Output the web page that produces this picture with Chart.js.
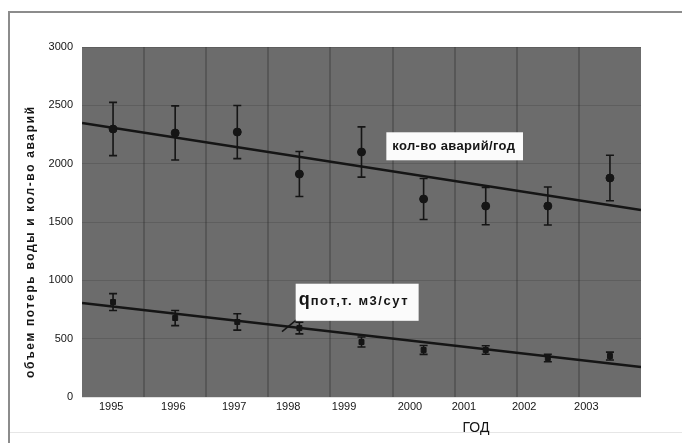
<!DOCTYPE html>
<html>
<head>
<meta charset="utf-8">
<script src="https://cdn.jsdelivr.net/npm/chart.js@4.4.1/dist/chart.umd.min.js"></script>
<style>
  html, body { margin: 0; padding: 0; background: #fff; }
  #wrap { width: 682px; height: 443px; position: relative; }
</style>
</head>
<body>
<div id="wrap"><canvas id="lossChart"></canvas></div>
<script>
// x is the year index: 0 = 1995 ... 8 = 2003
const years = ['1995', '1996', '1997', '1998', '1999', '2000', '2001', '2002', '2003'];
// the scanned tick labels drift left of the points, so they get their own positions
const yearTickPos = [-0.03, 0.97, 1.95, 2.82, 3.72, 4.78, 5.65, 6.62, 7.62];

const accidents    = [2297, 2263, 2271, 1911, 2100, 1697, 1637, 1637, 1877];
const accidentsErr = [228, 232, 228, 193, 215, 176, 160, 163, 195];
const waterLoss    = [814, 677, 643, 591, 471, 403, 403, 334, 351];
const waterLossErr = [72, 65, 70, 50, 43, 38, 36, 32, 34];

// trend lines, values at the left and right edge of the plot
const trendX         = [-0.5, 8.5];
const accidentsTrend = [2349, 1603];
const waterLossTrend = [806, 257];

const yTicks = [0, 500, 1000, 1500, 2000, 2500, 3000];

const FONT = 'Liberation Sans, Arial, sans-serif';
const INK = '#151515';

function toPoints(vals) {
  return vals.map((v, i) => ({ x: i, y: v }));
}

// draws text stretched to a given width with letter spacing
function fitText(ctx, text, x, y, width) {
  ctx.letterSpacing = '0px';
  const w = ctx.measureText(text).width;
  const sp = (width - w) / Math.max(text.length - 1, 1);
  ctx.letterSpacing = sp.toFixed(2) + 'px';
  ctx.fillText(text, x, y);
  ctx.letterSpacing = '0px';
}

const scanPlugin = {
  id: 'scan',
  beforeDraw(chart) {
    const { ctx, chartArea: a } = chart;
    ctx.save();
    // page frame
    ctx.strokeStyle = '#8c8c8c';
    ctx.lineWidth = 2;
    ctx.beginPath();
    ctx.moveTo(9, 443);
    ctx.lineTo(9, 12);
    ctx.lineTo(682, 12);
    ctx.stroke();
    ctx.strokeStyle = '#e6e6e6';
    ctx.lineWidth = 1;
    ctx.beginPath();
    ctx.moveTo(10, 432.5);
    ctx.lineTo(682, 432.5);
    ctx.stroke();
    // gray plot area
    ctx.fillStyle = '#6c6c6c';
    ctx.fillRect(a.left, a.top, a.right - a.left, a.bottom - a.top);
    ctx.restore();
  },
  beforeDatasetsDraw(chart) {
    const { ctx, chartArea: a, scales: { x, y } } = chart;
    ctx.save();
    // darker vertical bands between the years
    ctx.strokeStyle = 'rgba(40,40,40,0.3)';
    ctx.lineWidth = 2;
    for (let i = 0; i < years.length - 1; i++) {
      const px = Math.round(x.getPixelForValue(i + 0.5));
      ctx.beginPath();
      ctx.moveTo(px, a.top);
      ctx.lineTo(px, a.bottom);
      ctx.stroke();
    }
    // error bars
    const bars = [
      { vals: accidents, err: accidentsErr, cap: 4 },
      { vals: waterLoss, err: waterLossErr, cap: 4 }
    ];
    ctx.strokeStyle = INK;
    ctx.lineWidth = 1.6;
    bars.forEach(b => {
      b.vals.forEach((v, i) => {
        const px = x.getPixelForValue(i);
        const top = y.getPixelForValue(v + b.err[i]);
        const bot = y.getPixelForValue(v - b.err[i]);
        ctx.beginPath();
        ctx.moveTo(px, top);
        ctx.lineTo(px, bot);
        ctx.moveTo(px - b.cap, top);
        ctx.lineTo(px + b.cap, top);
        ctx.moveTo(px - b.cap, bot);
        ctx.lineTo(px + b.cap, bot);
        ctx.stroke();
      });
    });
    ctx.restore();
  },
  afterDatasetsDraw(chart) {
    const { ctx, scales: { x, y } } = chart;
    ctx.save();
    ctx.textBaseline = 'alphabetic';
    ctx.textAlign = 'left';

    // label box for the accidents trend
    const b1l = x.getPixelForValue(4.4), b1r = x.getPixelForValue(6.6);
    const b1t = y.getPixelForValue(2269), b1b = y.getPixelForValue(2029);
    ctx.fillStyle = '#fbfbfb';
    ctx.fillRect(b1l, b1t, b1r - b1l, b1b - b1t);
    ctx.fillStyle = INK;
    ctx.font = 'bold 13px ' + FONT;
    fitText(ctx, 'кол-во аварий/год', b1l + 6, b1t + 18, b1r - b1l - 14);

    // label box for the water loss trend
    const b2l = x.getPixelForValue(2.94), b2r = x.getPixelForValue(4.92);
    const b2t = y.getPixelForValue(971), b2b = y.getPixelForValue(653);
    ctx.strokeStyle = INK;
    ctx.lineWidth = 1.5;
    ctx.beginPath();
    ctx.moveTo(b2l + 2, b2b - 2);
    ctx.lineTo(x.getPixelForValue(2.72), y.getPixelForValue(560));
    ctx.stroke();
    ctx.fillStyle = '#fbfbfb';
    ctx.fillRect(b2l, b2t, b2r - b2l, b2b - b2t);
    ctx.fillStyle = INK;
    ctx.font = 'bold 18px ' + FONT;
    ctx.fillText('q', b2l + 3, b2t + 21);
    const qw = ctx.measureText('q').width;
    ctx.font = 'bold 13px ' + FONT;
    fitText(ctx, 'пот,т. м3/сут', b2l + 4 + qw, b2t + 21, b2r - b2l - qw - 15);

    ctx.restore();
  },
  afterDraw(chart) {
    const { ctx } = chart;
    ctx.save();
    ctx.fillStyle = INK;
    ctx.textAlign = 'left';
    ctx.textBaseline = 'middle';
    // y axis title, reads bottom to top
    ctx.translate(31, 378);
    ctx.rotate(-Math.PI / 2);
    ctx.font = 'bold 12px ' + FONT;
    fitText(ctx, 'объем потерь воды и кол-во аварий', 0, 0, 271);
    ctx.restore();

    ctx.save();
    ctx.fillStyle = INK;
    ctx.textAlign = 'center';
    ctx.textBaseline = 'middle';
    ctx.font = '14px ' + FONT;
    ctx.fillText('ГОД', 476, 428);
    ctx.restore();
  }
};

new Chart(document.getElementById('lossChart'), {
  type: 'scatter',
  data: {
    datasets: [
      {
        type: 'line',
        label: 'тренд аварий',
        data: trendX.map((xv, i) => ({ x: xv, y: accidentsTrend[i] })),
        borderColor: INK,
        borderWidth: 2.6,
        pointRadius: 0,
        order: 3
      },
      {
        type: 'line',
        label: 'тренд потерь',
        data: trendX.map((xv, i) => ({ x: xv, y: waterLossTrend[i] })),
        borderColor: INK,
        borderWidth: 2.6,
        pointRadius: 0,
        order: 3
      },
      {
        label: 'кол-во аварий/год',
        data: toPoints(accidents),
        pointStyle: 'circle',
        pointRadius: 4,
        backgroundColor: INK,
        borderColor: INK,
        order: 1
      },
      {
        label: 'qпот,т. м3/сут',
        data: toPoints(waterLoss),
        pointStyle: 'rect',
        pointRadius: 3.5,
        backgroundColor: INK,
        borderColor: INK,
        order: 1
      }
    ]
  },
  options: {
    responsive: true,
    maintainAspectRatio: false,
    animation: false,
    events: [],
    layout: { padding: { left: 0, top: 47, right: 41, bottom: 0 } },
    plugins: {
      legend: { display: false },
      tooltip: { enabled: false }
    },
    scales: {
      x: {
        type: 'linear',
        min: -0.5,
        max: 8.5,
        afterBuildTicks: axis => {
          axis.ticks = yearTickPos.map(v => ({ value: v }));
        },
        afterFit: s => { s.height = 46; },
        ticks: {
          autoSkip: false,
          maxRotation: 0,
          padding: 3,
          color: INK,
          font: { family: FONT, size: 11 },
          callback: (v, i) => years[i]
        },
        grid: { display: false, drawTicks: false },
        border: { display: false }
      },
      y: {
        min: 0,
        max: 3000,
        afterBuildTicks: axis => {
          axis.ticks = yTicks.map(v => ({ value: v }));
        },
        afterFit: s => { s.width = 82; },
        ticks: {
          padding: 9,
          color: INK,
          font: { family: FONT, size: 11 },
          callback: v => String(v)
        },
        grid: { color: 'rgba(0,0,0,0.12)', drawTicks: false },
        border: { display: false }
      }
    }
  },
  plugins: [scanPlugin]
});
</script>
</body>
</html>
